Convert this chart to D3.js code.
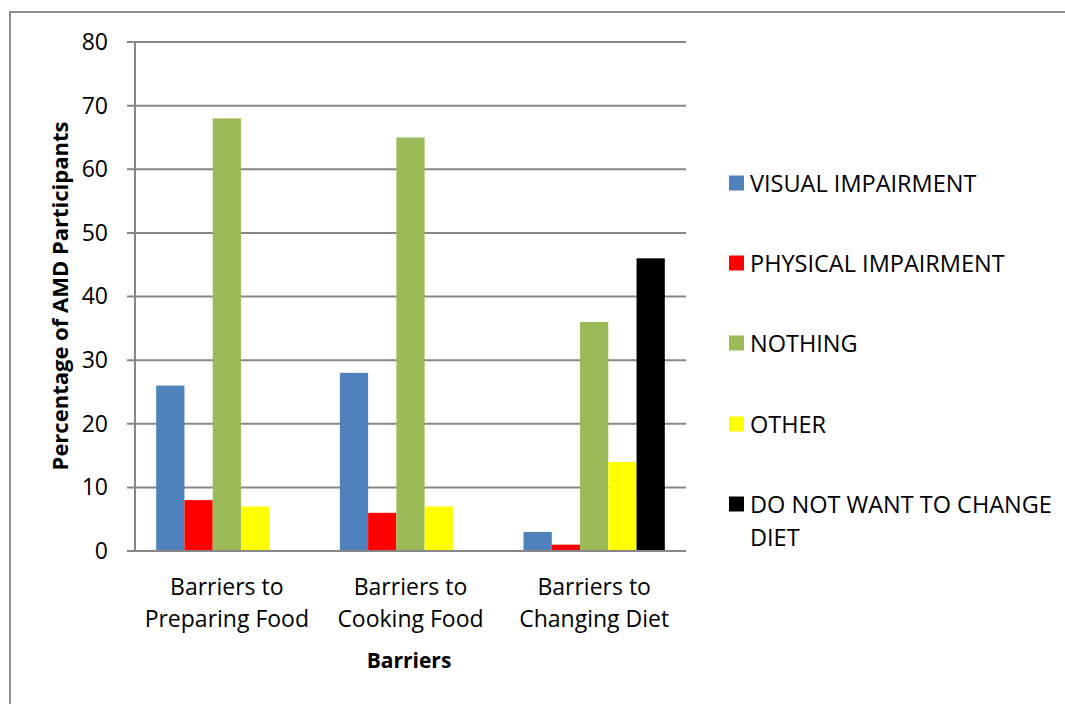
<!DOCTYPE html>
<html>
<head>
<meta charset="utf-8">
<script src="https://cdn.jsdelivr.net/npm/d3@7"></script>
<style>
  html, body { margin: 0; padding: 0; background: #fff; }
  svg { display: block; font-family: "Open Sans", Lato, sans-serif; }
</style>
</head>
<body>
<svg id="chart" width="1065" height="704"></svg>
<script>
// Categories on the x axis (two-line labels)
const categories = ["Barriers to Preparing Food", "Barriers to Cooking Food", "Barriers to Changing Diet"];
const categoryLines = [["Barriers to", "Preparing Food"], ["Barriers to", "Cooking Food"], ["Barriers to", "Changing Diet"]];

// Series names and colours
const seriesNames = ["VISUAL IMPAIRMENT", "PHYSICAL IMPAIRMENT", "NOTHING", "OTHER", "DO NOT WANT TO CHANGE DIET"];
const seriesColors = ["#4f81bd", "#ff0000", "#9bbb59", "#ffff00", "#000000"];

// Percentages per series, one value per category
const visualImpairment   = [26, 28, 3];
const physicalImpairment = [8, 6, 1];
const nothing            = [68, 65, 36];
const other              = [7, 7, 14];
const doNotWantToChange  = [0, 0, 46];

const yTicks = [0, 10, 20, 30, 40, 50, 60, 70, 80];

const seriesValues = [visualImpairment, physicalImpairment, nothing, other, doNotWantToChange];

const FONT = "'Open Sans', Lato, sans-serif";
const svg = d3.select("#chart");

// Outer frame
svg.append("rect")
  .attr("x", 10).attr("y", 12)
  .attr("width", 1070).attr("height", 710)
  .attr("fill", "none").attr("stroke", "#8c8c8c").attr("stroke-width", 2);

const plot = { left: 135, right: 686, top: 42, bottom: 551 };

const y = d3.scaleLinear().domain([0, 80]).range([plot.bottom, plot.top]);
const x0 = d3.scaleBand().domain(categories).range([plot.left, plot.right]).paddingInner(0).paddingOuter(0);
const x1 = d3.scaleBand().domain(seriesNames).range([0, x0.bandwidth()]).paddingInner(0).paddingOuter(0.75);

// Horizontal gridlines with short tick stubs left of the axis
svg.append("g").selectAll("line")
  .data(yTicks)
  .join("line")
  .attr("x1", plot.left - 8).attr("x2", plot.right)
  .attr("y1", d => y(d)).attr("y2", d => y(d))
  .attr("stroke", "#878787").attr("stroke-width", 2);

// Bars
const groups = svg.append("g").selectAll("g")
  .data(categories)
  .join("g")
  .attr("transform", d => `translate(${x0(d)},0)`);

groups.selectAll("rect")
  .data((c, ci) => seriesNames.map((s, si) => ({ s, si, v: seriesValues[si][ci] })))
  .join("rect")
  .attr("x", d => x1(d.s))
  .attr("width", x1.bandwidth())
  .attr("y", d => y(d.v))
  .attr("height", d => y(0) - y(d.v))
  .attr("fill", d => seriesColors[d.si]);

// Vertical axis line and baseline
svg.append("line")
  .attr("x1", plot.left).attr("x2", plot.left)
  .attr("y1", plot.top).attr("y2", plot.bottom)
  .attr("stroke", "#878787").attr("stroke-width", 2);
svg.append("line")
  .attr("x1", plot.left - 8).attr("x2", plot.right)
  .attr("y1", plot.bottom).attr("y2", plot.bottom)
  .attr("stroke", "#878787").attr("stroke-width", 2);

// Y axis tick labels
const yAxis = d3.axisLeft(y).tickValues(yTicks).tickSize(0).tickPadding(27);
const yg = svg.append("g").attr("transform", `translate(${plot.left},0)`).call(yAxis);
yg.select(".domain").remove();
yg.selectAll("text")
  .attr("font-family", FONT)
  .attr("font-size", 23).attr("fill", "#000");

// Category labels (two lines each)
const catLabels = svg.append("g").selectAll("text")
  .data(categories)
  .join("text")
  .attr("text-anchor", "middle")
  .attr("font-size", 23)
  .attr("fill", "#000");
catLabels.each(function (d, i) {
  const t = d3.select(this);
  categoryLines[i].forEach((line, li) => {
    t.append("tspan")
      .attr("x", x0(d) + x0.bandwidth() / 2)
      .attr("y", 595 + li * 32)
      .text(line);
  });
});

// Axis titles
svg.append("text")
  .attr("x", 409).attr("y", 668)
  .attr("text-anchor", "middle")
  .attr("font-size", 21).attr("font-weight", "bold")
  .text("Barriers");

svg.append("text")
  .attr("transform", "translate(68,296) rotate(-90)")
  .attr("text-anchor", "middle")
  .attr("font-size", 22).attr("font-weight", "bold")
  .text("Percentage of AMD Participants");

// Legend
const legendRows = [183, 263, 343, 424, 504];
const legend = svg.append("g").selectAll("g")
  .data(seriesNames)
  .join("g")
  .attr("transform", (d, i) => `translate(729,${legendRows[i]})`);
legend.append("rect")
  .attr("x", 0).attr("y", -7.5)
  .attr("width", 15).attr("height", 15)
  .attr("fill", (d, i) => seriesColors[i]);
const legendLines = [["VISUAL IMPAIRMENT"], ["PHYSICAL IMPAIRMENT"], ["NOTHING"], ["OTHER"], ["DO NOT WANT TO CHANGE", "DIET"]];
legend.append("text")
  .attr("font-size", 23.5)
  .attr("fill", "#000")
  .each(function (d, i) {
    const t = d3.select(this);
    legendLines[i].forEach((line, li) => {
      t.append("tspan").attr("x", 21).attr("y", 8.5 + li * 33).text(line);
    });
  });
</script>
</body>
</html>
